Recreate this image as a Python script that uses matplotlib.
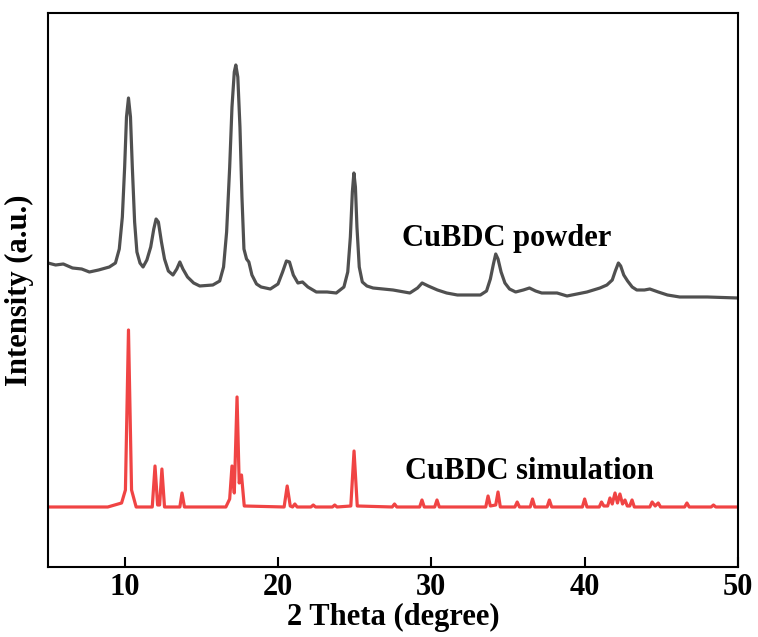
import matplotlib
matplotlib.use("Agg")
import matplotlib.pyplot as plt

plt.rcParams['font.family'] = ['Liberation Serif', 'DejaVu Serif']
plt.rcParams['font.weight'] = 'bold'

# CuBDC powder (measured), 2theta / intensity (a.u.)
powder_x = [5.0, 5.5, 6.0, 6.6, 7.2, 7.7, 8.3, 9.0, 9.4, 9.65, 9.85, 10.0, 10.12, 10.25,
            10.38, 10.5, 10.65, 10.8, 11.0, 11.2, 11.45, 11.7, 11.9, 12.05, 12.2, 12.4,
            12.6, 12.85, 13.15, 13.4, 13.6, 13.8, 14.1, 14.5, 14.9, 15.75, 16.2, 16.45,
            16.65, 16.85, 17.0, 17.15, 17.25, 17.38, 17.52, 17.65, 17.78, 17.95, 18.1,
            18.3, 18.6, 18.9, 19.5, 20.0, 20.3, 20.55, 20.75, 21.0, 21.3, 21.6, 21.95,
            22.5, 23.2, 23.8, 24.3, 24.55, 24.72, 24.85, 24.95, 25.05, 25.15, 25.3, 25.5,
            25.8, 26.2, 27.5, 28.6, 29.1, 29.4, 29.8, 30.4, 31.0, 31.7, 33.2, 33.6, 33.85,
            34.05, 34.2, 34.35, 34.55, 34.8, 35.1, 35.5, 36.0, 36.4, 36.8, 37.2, 38.2,
            38.85, 39.5, 40.15, 41.0, 41.45, 41.8, 42.0, 42.2, 42.35, 42.55, 42.8, 43.1,
            43.4, 43.9, 44.25, 44.8, 45.4, 46.2, 48.0, 50.0]
powder_y = [304, 302, 303, 299, 298, 295, 297, 300, 304, 318, 350, 400, 450, 469,
            450, 400, 345, 315, 304, 300, 307, 320, 338, 348, 345, 325,
            308, 296, 292, 298, 305, 298, 290, 284, 281, 282, 286, 300,
            335, 400, 460, 495, 502, 490, 440, 370, 318, 308, 305,
            292, 283, 280, 278, 283, 295, 306, 305, 292, 284, 285, 280,
            275, 275, 274, 280, 295, 330, 375, 394, 380, 340, 300, 285,
            281, 279, 277, 274, 279, 284, 281, 277, 274, 272, 272, 276, 288,
            303, 313, 308, 295, 284, 278, 275, 277, 279, 276, 274, 274,
            271, 273, 275, 279, 282, 287, 296, 304, 301, 292, 286, 280,
            277, 277, 278, 275, 272, 270, 270, 269]

# CuBDC simulation
sim_x = [5.0, 8.9, 9.8, 10.05, 10.25, 10.45, 10.75,
         11.8, 11.98, 12.15, 12.28, 12.43, 12.6,
         13.6, 13.74, 13.9,
         16.6, 16.85, 17.0, 17.15, 17.33, 17.47, 17.62, 17.8,
         20.4, 20.6, 20.8, 20.95, 21.1, 21.25, 22.15, 22.3, 22.45,
         23.55, 23.7, 23.85, 24.75, 24.96, 25.17,
         27.45, 27.6, 27.75, 29.24, 29.39, 29.54, 30.22, 30.37, 30.52,
         33.55, 33.7, 33.85, 34.2, 34.35, 34.5, 35.45, 35.6, 35.75,
         36.45, 36.6, 36.75, 37.55, 37.7, 37.85, 39.85, 40.0, 40.15,
         40.95, 41.1, 41.25, 41.5, 41.65, 41.8, 41.98, 42.14, 42.3, 42.47, 42.63, 42.78,
         42.94, 43.09, 43.24, 44.25, 44.4, 44.6, 44.8, 44.95,
         46.52, 46.67, 46.82, 48.25, 48.4, 48.55, 50.0]
sim_y = [60, 60, 64, 77, 237, 77, 60,
         60, 101, 62, 62, 98, 60,
         60, 74, 60,
         60, 68, 101, 74, 170, 84, 92, 61,
         60, 81, 61, 60, 63, 60, 60, 62, 60,
         60, 62, 60, 61, 116, 61,
         60, 63, 60, 60, 67, 60, 60, 67, 60,
         60, 71, 61, 62, 75, 60, 60, 65, 60,
         60, 68, 60, 60, 67, 60, 60, 68, 60,
         60, 65, 61, 61, 69, 63, 74, 64, 73, 63, 67, 61,
         61, 67, 60, 60, 65, 61, 64, 60,
         60, 64, 60, 60, 62, 60, 60]

fig = plt.figure(figsize=(7.58, 6.37), dpi=100)
ax = fig.add_axes([0.0633, 0.1099, 0.9103, 0.8697])

ax.plot(powder_x, powder_y, color='#505050', lw=2.3)
ax.plot(sim_x, sim_y, color='#F04444', lw=2.3)

ax.text(28.1, 328, 'CuBDC powder', fontsize=22, fontweight='bold', va='center')
ax.text(28.3, 95, 'CuBDC simulation', fontsize=22, fontweight='bold', va='center')

ax.set_xlim(5, 50)
ax.set_ylim(0, 554)
ax.set_xticks([10, 20, 30, 40, 50])
ax.set_yticks([])
ax.tick_params(axis='x', direction='in', length=7, width=1.5, labelsize=22, pad=4)
for s in ax.spines.values():
    s.set_linewidth(1.5)

ax.set_xlabel('2 Theta (degree)', fontsize=22, fontweight='bold', labelpad=1)
ax.set_ylabel('Intensity (a.u.)', fontsize=22, fontweight='bold', labelpad=10)

fig.savefig('out.png', dpi=100)
